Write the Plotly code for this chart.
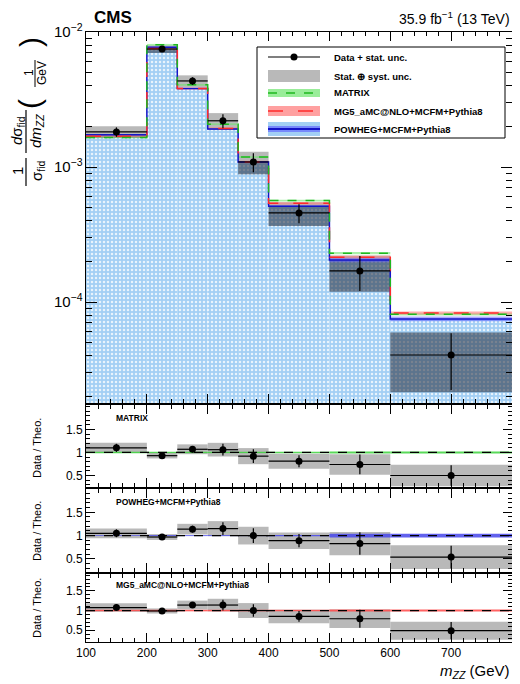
import plotly.graph_objects as go

# ---------------- data ----------------
edges = [100, 200, 250, 300, 350, 400, 500, 600, 800]
data = [1.82e-3, 7.48e-3, 4.34e-3, 2.20e-3, 1.09e-3, 4.57e-4, 1.70e-4, 4.05e-5]
stat_rel = [0.08, 0.04, 0.065, 0.12, 0.16, 0.16, 0.29, 0.45]
tot_rel = [0.10, 0.065, 0.10, 0.14, 0.19, 0.20, 0.30, 0.47]
matrix = [1.655e-3, 8.04e-3, 4.06e-3, 2.075e-3, 1.185e-3, 5.64e-4, 2.30e-4, 8.1e-5]
mg5 = [1.693e-3, 7.56e-3, 3.81e-3, 1.93e-3, 1.09e-3, 5.38e-4, 2.15e-4, 8.3e-5]
powheg = [1.733e-3, 7.71e-3, 3.81e-3, 1.913e-3, 1.09e-3, 5.13e-4, 2.05e-4, 7.5e-5]
matrix_unc = [0.015, 0.015, 0.015, 0.015, 0.015, 0.015, 0.02, 0.02]
mg5_unc = [0.02, 0.02, 0.02, 0.02, 0.02, 0.02, 0.025, 0.025]
powheg_unc = [0.01, 0.01, 0.01, 0.01, 0.01, 0.015, 0.04, 0.04]
x_ticks = [100, 200, 300, 400, 500, 600, 700, 800]
legend_labels = ["Data + stat. unc.", "Stat. \u2295 syst. unc.", "MATRIX",
                 "MG5_aMC@NLO+MCFM+Pythia8", "POWHEG+MCFM+Pythia8"]

centers = [(a + b) / 2 for a, b in zip(edges[:-1], edges[1:])]
widths = [b - a for a, b in zip(edges[:-1], edges[1:])]
halfw = [w / 2 for w in widths]

FONT = "Liberation Sans, Arial, sans-serif"
# the page body has an 8px margin, so the figure is placed at (8, 8)
OFF = 8
W, H = 520 - OFF, 684 - OFF
L, R, T, B = 86 - OFF, 8, 32 - OFF, 42
PW, PH = W - L - R, H - T - B


def px(xp):
    return (xp - OFF - L) / PW


def py(yp):
    return (H - B - (yp - OFF)) / PH


GREEN = "#1fb81f"
RED = "#ff2a2a"
BLUE = "#1414c8"

fig = go.Figure()

# ---------------- main panel ----------------
fig.add_trace(go.Bar(
    x=centers, y=powheg, width=widths, xaxis="x", yaxis="y",
    marker=dict(color="#a3cff4", line_width=0,
                pattern=dict(shape=".", fgcolor="white", fgopacity=0.75,
                             size=4, solidity=0.3, fillmode="overlay")),
    showlegend=False, hoverinfo="skip"))

lo = [d * (1 - t) for d, t in zip(data, tot_rel)]
hi = [d * (1 + t) for d, t in zip(data, tot_rel)]
up_base = [max(l, p) for l, p in zip(lo, powheg)]
up_h = [max(h - b, 0) for h, b in zip(hi, up_base)]
dn_top = [min(h, p) for h, p in zip(hi, powheg)]
dn_h = [max(t - l, 0) for t, l in zip(dn_top, lo)]
fig.add_trace(go.Bar(x=centers, y=up_h, base=up_base, width=widths,
                     xaxis="x", yaxis="y", marker=dict(color="#b9b9b9", line_width=0),
                     showlegend=False, hoverinfo="skip"))
fig.add_trace(go.Bar(x=centers, y=dn_h, base=lo, width=widths,
                     xaxis="x", yaxis="y",
                     marker=dict(color="rgba(45,55,72,0.6)", line_width=0),
                     showlegend=False, hoverinfo="skip"))

for vals, unc, col in [(matrix, matrix_unc, "rgba(110,230,110,0.6)"),
                       (mg5, mg5_unc, "rgba(255,120,120,0.6)"),
                       (powheg, powheg_unc, "rgba(90,90,255,0.5)")]:
    fig.add_trace(go.Bar(x=centers, y=[2 * v * u for v, u in zip(vals, unc)],
                         base=[v * (1 - u) for v, u in zip(vals, unc)], width=widths,
                         xaxis="x", yaxis="y", marker=dict(color=col, line_width=0),
                         showlegend=False, hoverinfo="skip"))

for vals, col, dash in [(powheg, BLUE, "solid"), (mg5, RED, "longdash"), (matrix, GREEN, "dash")]:
    fig.add_trace(go.Scatter(x=edges, y=vals + [vals[-1]], mode="lines", line_shape="hv",
                             line=dict(color=col, width=1.5, dash=dash),
                             xaxis="x", yaxis="y", showlegend=False, hoverinfo="skip"))

fig.add_trace(go.Scatter(
    x=centers, y=data, mode="markers", xaxis="x", yaxis="y",
    marker=dict(color="black", size=7),
    error_y=dict(type="data", array=[d * s for d, s in zip(data, stat_rel)],
                 color="black", thickness=1.2, width=0),
    error_x=dict(type="data", array=halfw, color="black", thickness=1.2, width=0),
    showlegend=False, hoverinfo="skip"))

# ---------------- ratio panels ----------------
panels = [("2", matrix, matrix_unc, "rgba(60,210,60,0.85)"),
          ("3", powheg, powheg_unc, "rgba(70,70,235,0.85)"),
          ("4", mg5, mg5_unc, "rgba(255,70,70,0.85)")]
for idx, theo, unc, col in panels:
    ratio = [d / t for d, t in zip(data, theo)]
    fig.add_trace(go.Bar(x=centers, y=[2 * r * t for r, t in zip(ratio, tot_rel)],
                         base=[r * (1 - t) for r, t in zip(ratio, tot_rel)], width=widths,
                         xaxis="x" + idx, yaxis="y" + idx,
                         marker=dict(color="#b9b9b9", line_width=0),
                         showlegend=False, hoverinfo="skip"))
    fig.add_trace(go.Bar(x=centers, y=[2 * u for u in unc], base=[1 - u for u in unc],
                         width=widths, xaxis="x" + idx, yaxis="y" + idx,
                         marker=dict(color=col, line_width=0),
                         showlegend=False, hoverinfo="skip"))
    fig.add_trace(go.Scatter(x=[edges[0], edges[-1]], y=[1, 1], mode="lines",
                             line=dict(color="black", width=1.2, dash="dash"),
                             xaxis="x" + idx, yaxis="y" + idx,
                             showlegend=False, hoverinfo="skip"))
    fig.add_trace(go.Scatter(
        x=centers, y=ratio, mode="markers", xaxis="x" + idx, yaxis="y" + idx,
        marker=dict(color="black", size=7),
        error_y=dict(type="data", array=[r * s for r, s in zip(ratio, stat_rel)],
                     color="black", thickness=1.2, width=0),
        error_x=dict(type="data", array=halfw, color="black", thickness=1.2, width=0),
        showlegend=False, hoverinfo="skip"))

# ---------------- axes ----------------
base_ax = dict(showline=True, linecolor="black", linewidth=1, mirror="allticks",
               ticks="inside", tickcolor="black", showgrid=False, zeroline=False,
               tickfont=dict(family=FONT, size=12, color="black"))


def xax(anchor, labels):
    d = dict(base_ax)
    d.update(range=[edges[0], edges[-1]], tickmode="array", tickvals=x_ticks,
             ticklen=9, anchor=anchor, domain=[0, 1], showticklabels=labels,
             minor=dict(ticks="inside", ticklen=4, dtick=20, tick0=100,
                        tickcolor="black", showgrid=False))
    return d


domains = {"main": [0.3918, 1.0], "2": [0.2541, 0.3885], "3": [0.1148, 0.2508], "4": [0.0, 0.1115]}
ranges = {"2": [0.25, 2.03], "3": [0.22, 2.0], "4": [0.2, 1.93]}

layout = dict(width=W, height=H, margin=dict(l=L, r=R, t=T, b=B),
              paper_bgcolor="white", plot_bgcolor="white", barmode="overlay",
              font=dict(family=FONT, color="black"), showlegend=False)
layout["xaxis"] = xax("y", False)
ym = dict(base_ax)
ym.update(type="log", range=[-4.748, -2], dtick=1, exponentformat="power",
          ticklen=11, domain=domains["main"], anchor="x",
          minor=dict(ticks="inside", ticklen=6, tickcolor="black", showgrid=False))
layout["yaxis"] = ym
for idx in ["2", "3", "4"]:
    layout["xaxis" + idx] = xax("y" + idx, idx == "4")
    ya = dict(base_ax)
    ya.update(range=ranges[idx], tickmode="array", tickvals=[0.5, 1, 1.5],
              ticktext=["0.5", "1", "1.5"], ticklen=9, domain=domains[idx],
              anchor="x" + idx,
              minor=dict(ticks="inside", ticklen=4, dtick=0.1, tick0=0,
                         tickcolor="black", showgrid=False))
    layout["yaxis" + idx] = ya
fig.update_layout(**layout)

# ---------------- annotations / shapes ----------------
ann = []
shapes = []


def text(x, y, s, size, anchor="center", angle=0, valign="middle"):
    ann.append(dict(x=px(x), y=py(y), xref="paper", yref="paper", text=s,
                    showarrow=False, xanchor=anchor, yanchor=valign, textangle=angle,
                    font=dict(family=FONT, size=size, color="black")))


text(92, 17, "<b>CMS</b>", 17, anchor="left")
text(512, 18, "35.9 fb<sup>\u22121</sup> (13 TeV)", 14, anchor="right")
text(512, 671, "<i>m</i><sub><i>ZZ</i></sub> (GeV)", 15, anchor="right")

# y-axis title of main panel (built from fractions)
text(17, 171, "1", 15, angle=-90)
text(37, 171, "\u03c3<sub>fid</sub>", 15, angle=-90)
shapes.append(dict(type="line", xref="paper", yref="paper", x0=px(26), x1=px(26),
                   y0=py(158), y1=py(186), line=dict(color="black", width=1.2)))
text(18, 131, "<i>d</i>\u03c3<sub>fid</sub>", 15, angle=-90)
text(37, 131, "<i>dm</i><sub><i>ZZ</i></sub>", 15, angle=-90)
shapes.append(dict(type="line", xref="paper", yref="paper", x0=px(26), x1=px(26),
                   y0=py(110), y1=py(153), line=dict(color="black", width=1.2)))
text(30, 104, "(", 30, angle=-90)
text(30, 42, ")", 30, angle=-90)
text(29, 73, "1", 12, angle=-90)
text(42, 73, "GeV", 12, angle=-90)
shapes.append(dict(type="line", xref="paper", yref="paper", x0=px(35), x1=px(35),
                   y0=py(60), y1=py(87), line=dict(color="black", width=1)))

for yc in [448, 531, 608]:
    text(37, yc, "Data / Theo.", 11, angle=-90)
text(114, 418, "<b>MATRIX</b>", 8.5, anchor="left")
text(114, 502, "<b>POWHEG+MCFM+Pythia8</b>", 8.5, anchor="left")
text(114, 585, "<b>MG5_aMC@NLO+MCFM+Pythia8</b>", 8.5, anchor="left")

# legend
shapes.append(dict(type="rect", xref="paper", yref="paper", x0=px(257), x1=px(505),
                   y0=py(138), y1=py(47), line=dict(color="black", width=1),
                   fillcolor="white"))
rows = [57, 76, 93, 111, 129]
for yv, lab in zip(rows, legend_labels):
    text(332, yv, "<b>" + lab + "</b>", 9.5, anchor="left")
sx0, sx1 = px(268), px(320)
shapes.append(dict(type="line", xref="paper", yref="paper", x0=sx0, x1=sx1,
                   y0=py(57), y1=py(57), line=dict(color="black", width=1.2)))
shapes.append(dict(type="circle", xref="paper", yref="paper", x0=px(290.5), x1=px(297.5),
                   y0=py(60.5), y1=py(53.5), fillcolor="black", line=dict(color="black", width=0)))
shapes.append(dict(type="rect", xref="paper", yref="paper", x0=sx0, x1=sx1,
                   y0=py(82), y1=py(70), fillcolor="#b9b9b9", line=dict(width=0)))
shapes.append(dict(type="rect", xref="paper", yref="paper", x0=sx0, x1=sx1,
                   y0=py(97), y1=py(89), fillcolor="rgba(110,230,110,0.7)", line=dict(width=0)))
shapes.append(dict(type="line", xref="paper", yref="paper", x0=sx0, x1=sx1,
                   y0=py(93), y1=py(93), line=dict(color=GREEN, width=1.5, dash="dash")))
shapes.append(dict(type="rect", xref="paper", yref="paper", x0=sx0, x1=sx1,
                   y0=py(116), y1=py(106), fillcolor="rgba(255,120,120,0.7)", line=dict(width=0)))
shapes.append(dict(type="line", xref="paper", yref="paper", x0=sx0, x1=sx1,
                   y0=py(111), y1=py(111), line=dict(color=RED, width=1.5, dash="longdash")))
shapes.append(dict(type="rect", xref="paper", yref="paper", x0=sx0, x1=sx1,
                   y0=py(136), y1=py(122), fillcolor="#a3cff4", line=dict(width=0)))
shapes.append(dict(type="rect", xref="paper", yref="paper", x0=sx0, x1=sx1,
                   y0=py(132), y1=py(126), fillcolor="rgba(90,90,255,0.6)", line=dict(width=0)))
shapes.append(dict(type="line", xref="paper", yref="paper", x0=sx0, x1=sx1,
                   y0=py(129), y1=py(129), line=dict(color=BLUE, width=2)))

fig.update_layout(annotations=ann, shapes=shapes)
fig.write_html("out.html")
